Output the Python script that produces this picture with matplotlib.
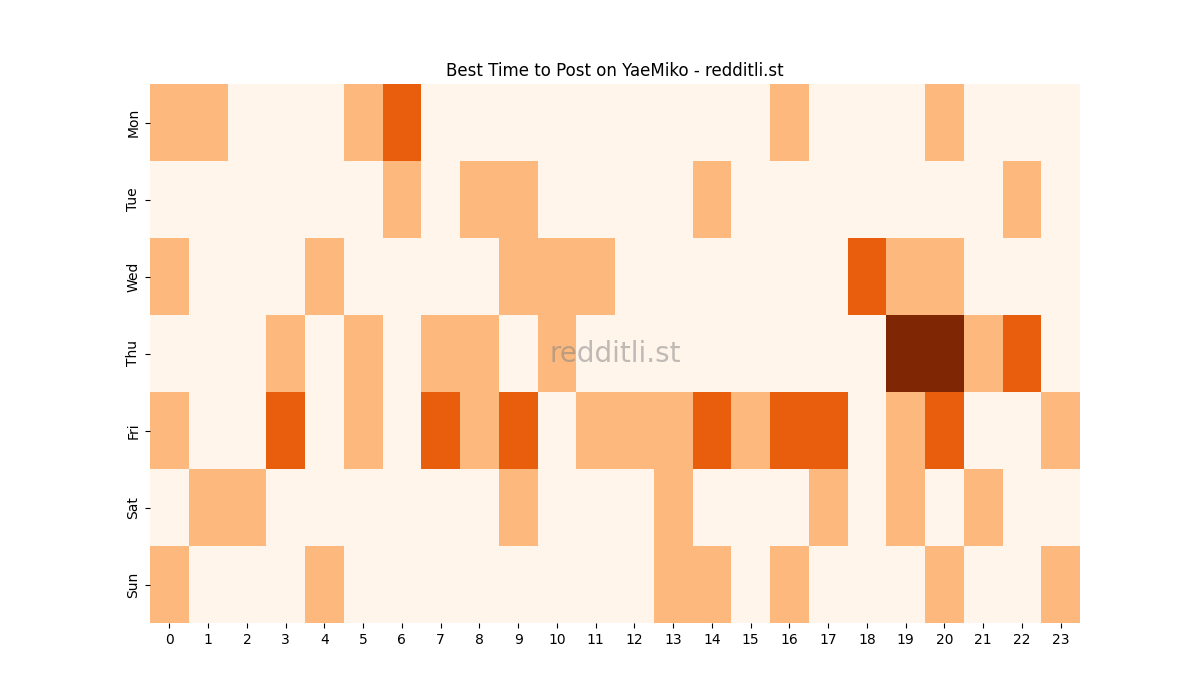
import matplotlib
matplotlib.use("Agg")
import matplotlib.pyplot as plt
import numpy as np

days = ["Mon", "Tue", "Wed", "Thu", "Fri", "Sat", "Sun"]
hours = list(range(24))

# post counts per weekday (rows) and hour (columns)
mon = [1,1,0,0,0,1,2,0,0,0,0,0,0,0,0,0,1,0,0,0,1,0,0,0]
tue = [0,0,0,0,0,0,1,0,1,1,0,0,0,0,1,0,0,0,0,0,0,0,1,0]
wed = [1,0,0,0,1,0,0,0,0,1,1,1,0,0,0,0,0,0,2,1,1,0,0,0]
thu = [0,0,0,1,0,1,0,1,1,0,1,0,0,0,0,0,0,0,0,3,3,1,2,0]
fri = [1,0,0,2,0,1,0,2,1,2,0,1,1,1,2,1,2,2,0,1,2,0,0,1]
sat = [0,1,1,0,0,0,0,0,0,1,0,0,0,1,0,0,0,1,0,1,0,1,0,0]
sun = [1,0,0,0,1,0,0,0,0,0,0,0,0,1,1,0,1,0,0,0,1,0,0,1]

grid = np.array([mon, tue, wed, thu, fri, sat, sun])

fig = plt.figure(figsize=(12, 7), dpi=100)
ax = fig.add_subplot(111)

ax.pcolormesh(grid, cmap="Oranges", vmin=grid.min(), vmax=grid.max())
ax.set_xlim(0, len(hours))
ax.set_ylim(len(days), 0)

ax.set_xticks(np.arange(len(hours)) + 0.5)
ax.set_xticklabels(hours)
ax.set_yticks(np.arange(len(days)) + 0.5)
ax.set_yticklabels(days, rotation=90, va="center")
for s in ax.spines.values():
    s.set_visible(False)

ax.set_title("Best Time to Post on YaeMiko - redditli.st")
ax.text(0.5, 0.5, "redditli.st", transform=ax.transAxes, ha="center", va="center",
        fontsize=20, color="gray", alpha=0.5)

fig.savefig("out.png")
